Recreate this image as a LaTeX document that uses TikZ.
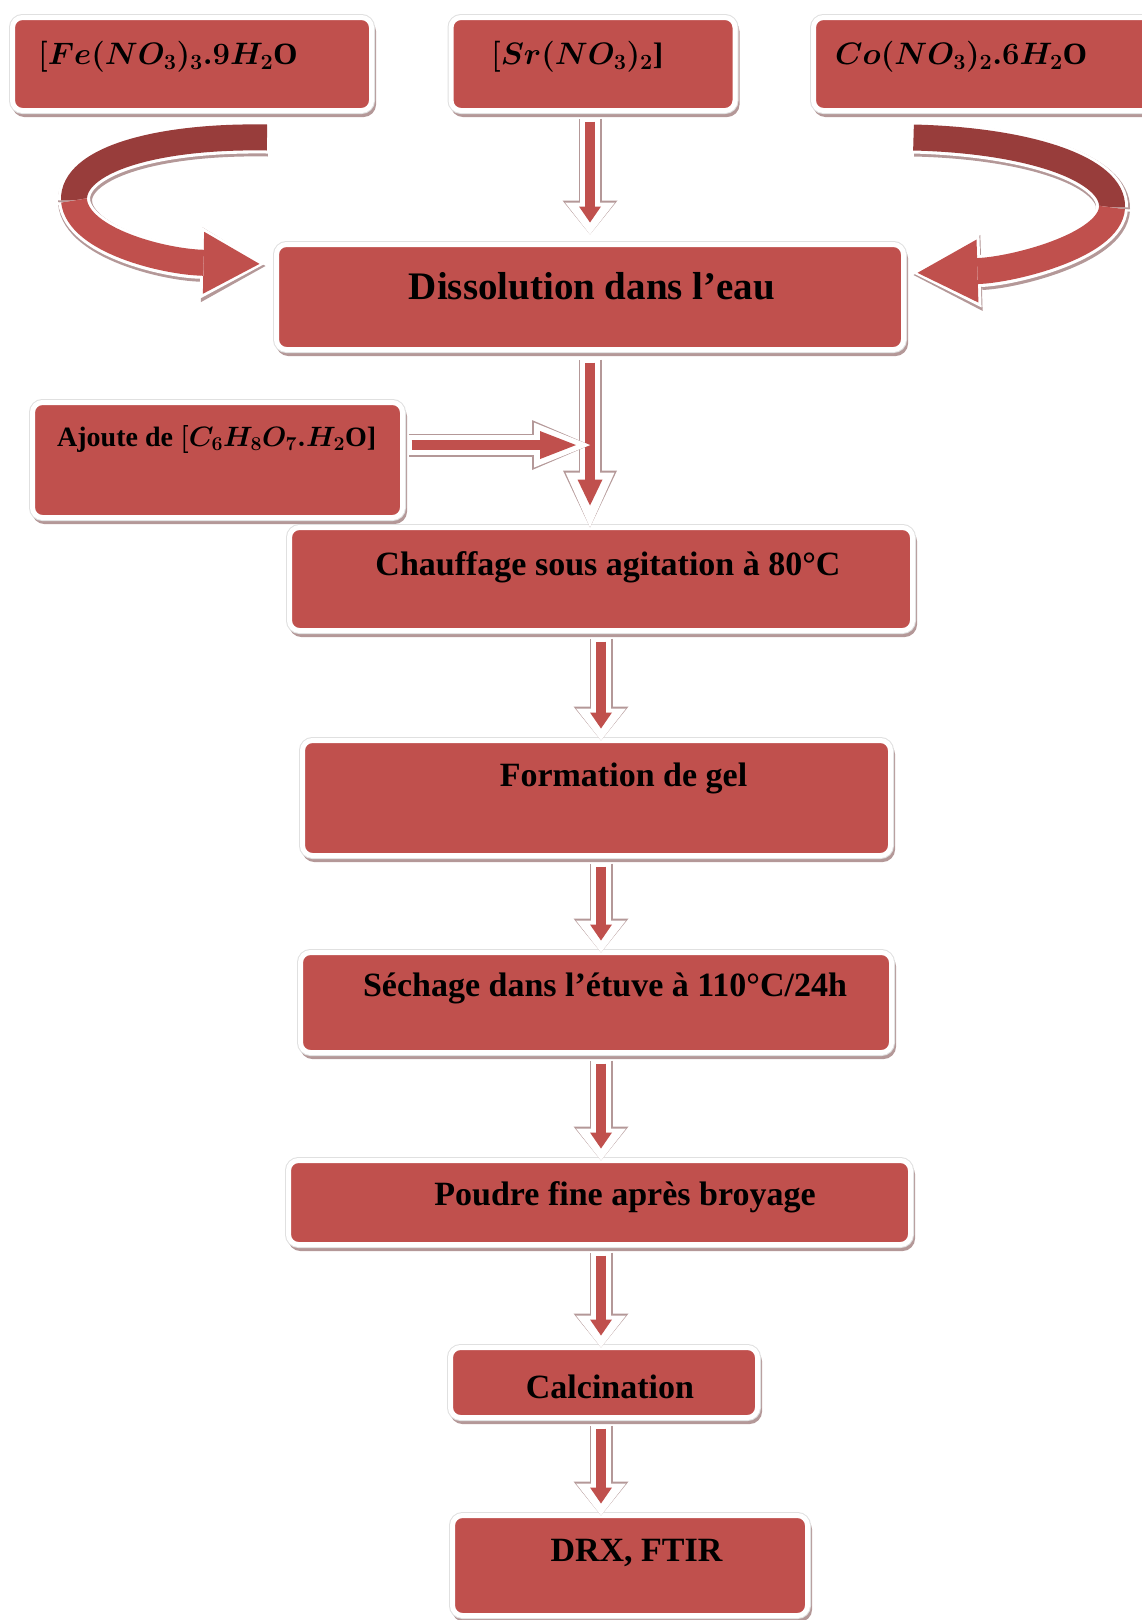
\RequirePackage{fix-cm}
\documentclass[tikz,border=0pt]{standalone}
\usepackage{fontspec}
\setmainfont{Liberation Serif}
\usetikzlibrary{arrows.meta,calc}

\definecolor{boxred}{RGB}{192,80,77}
\definecolor{backred}{RGB}{152,61,59}
\definecolor{shade}{RGB}{180,152,152}

\tikzset{
  box/.style={rectangle, rounded corners=10pt, fill=boxred, draw=white,
    line width=5pt, outer sep=0pt,
    preaction={draw=shade, fill=shade, line width=5pt,
      transform canvas={xshift=2pt,yshift=-4pt}},
    preaction={draw=black!12, line width=7pt}},
  txt/.style={inner sep=0pt, font=\fontsize{34}{40}\selectfont\bfseries},
  chem/.style={inner sep=0pt, font=\fontsize{31}{36}\selectfont\bfseries},
  flowshade/.style={draw=shade, line width=23pt,
    -{Triangle[length=34pt,width=55pt,line width=0pt]}},
  flowwhite/.style={draw=white, line width=20pt,
    -{Triangle[length=32pt,width=50pt,line width=0pt]}},
  flowred/.style={draw=boxred, line width=10pt, shorten <=3pt, shorten >=12pt,
    -{Triangle[length=16pt,width=22pt,line width=0pt]}},
  ribshade/.style={draw=shade, line width=34pt,
    transform canvas={xshift=1pt,yshift=-2pt}},
  ribwhite/.style={draw=white, line width=32pt},
  ribback/.style={draw=backred, line width=26pt},
  ribfront/.style={draw=boxred, line width=26pt},
}

% three layers: shadow, white rim, red core
\newcommand\flowarrow[2]{%
  \draw[flowshade] #1 -- #2;
  \draw[flowwhite] #1 -- #2;
  \draw[flowred] #1 -- #2;}

\begin{document}
\begin{tikzpicture}[x=1pt,y=-1pt]
  \useasboundingbox (0,0) rectangle (1141,1620);

  % boxes
  \node[box, minimum width=359pt, minimum height=93pt] (fe) at (192,64) {};
  \node[box, minimum width=284pt, minimum height=93pt] (sr) at (593,64) {};
  \node[box, minimum width=339pt, minimum height=93pt] (co) at (983,64) {};
  \node[box, minimum width=627pt, minimum height=105pt] (dis) at (590,297) {};
  \node[box, minimum width=370pt, minimum height=115pt] (ajo) at (217.5,460) {};
  \node[box, minimum width=623pt, minimum height=103pt] (cha) at (601,579) {};
  \node[box, minimum width=588pt, minimum height=115pt] (gel) at (596.5,798) {};
  \node[box, minimum width=591pt, minimum height=100pt] (sec) at (596,1002.5) {};
  \node[box, minimum width=622pt, minimum height=84pt] (pou) at (599.5,1202.5) {};
  \node[box, minimum width=307pt, minimum height=70pt] (cal) at (604,1382.5) {};
  \node[box, minimum width=355pt, minimum height=100pt] (drx) at (630,1565.5) {};

  % texts
  \node[chem, anchor=west] (fe-t) at ($(fe.west)+(25.5,-7)$)
    {{\boldmath$[Fe(NO_3)_3.9H_2$}O};
  \node[chem, anchor=west] (sr-t) at ($(sr.west)+(40,-7)$)
    {{\boldmath$[Sr(NO_3)_2$}]};
  \node[chem, anchor=west] (co-t) at ($(co.west)+(21.5,-7)$)
    {{\boldmath$Co(NO_3)_2.6H_2$}O};
  \node[txt, font=\fontsize{39}{44}\selectfont\bfseries] (dis-t)
    at ($(dis.center)+(2,-11)$) {Dissolution dans l’eau};
  \node[txt, anchor=west, font=\fontsize{28}{33}\selectfont\bfseries] (ajo-t)
    at ($(ajo.west)+(24.5,-21)$) {Ajoute de {\boldmath$[C_6H_8O_7.H_2$}O]};
  \node[txt] (cha-t) at ($(cha.center)+(7,-12)$) {Chauffage sous agitation à 80°C};
  \node[txt] (gel-t) at ($(gel.center)+(27,-20)$) {Formation de gel};
  \node[txt] (sec-t) at ($(sec.center)+(9,-14.5)$) {Séchage dans l’étuve à 110°C/24h};
  \node[txt] (pou-t) at ($(pou.center)+(25.5,-5.5)$) {Poudre fine après broyage};
  \node[txt] (cal-t) at ($(cal.center)+(6,4.5)$) {Calcination};
  \node[txt] (drx-t) at ($(drx.center)+(6.5,-12.5)$) {DRX, FTIR};

  % curved arrows into the dissolution box
  \coordinate (fe-s) at ($(fe.south)+(75,27)$);
  \coordinate (fe-m) at ($(fe.south west)+(61.5,90)$);
  \coordinate (fe-e) at ($(dis.west)+(-12,-33)$);
  \draw[ribshade] (fe-s) .. controls +(-112,-2) and +(-2,-40) .. (fe-m);
  \draw[ribwhite, shorten <=-3pt] (fe-s) .. controls +(-112,-2) and +(-2,-40) .. (fe-m);
  \draw[ribback] (fe-s) .. controls +(-112,-2) and +(-2,-40) .. (fe-m);
  \draw[ribshade, -{Triangle[length=64pt,width=75pt,line width=0pt]}]
    (fe-m) .. controls +(4,40) and +(-100,-2) .. (fe-e);
  \draw[ribwhite, -{Triangle[length=64pt,width=72pt,line width=0pt]}]
    (fe-m) .. controls +(4,40) and +(-100,-2) .. (fe-e);
  \draw[ribfront, shorten >=5pt, -{Triangle[length=56pt,width=62pt,line width=0pt]}]
    (fe-m) .. controls +(4,40) and +(-100,-2) .. (fe-e);

  \coordinate (co-s) at ($(co.south west)+(100,27)$);
  \coordinate (co-m) at ($(co.south west)+(298.5,97)$);
  \coordinate (co-e) at ($(dis.east)+(9,-24)$);
  \draw[ribshade] (co-s) .. controls +(120,3) and +(2,-37) .. (co-m);
  \draw[ribwhite, shorten <=-3pt] (co-s) .. controls +(120,3) and +(2,-37) .. (co-m);
  \draw[ribback] (co-s) .. controls +(120,3) and +(2,-37) .. (co-m);
  \draw[ribshade, -{Triangle[length=68pt,width=76pt,line width=0pt]}]
    (co-m) .. controls +(-2,38) and +(100,-3) .. (co-e);
  \draw[ribwhite, -{Triangle[length=68pt,width=73pt,line width=0pt]}]
    (co-m) .. controls +(-2,38) and +(100,-3) .. (co-e);
  \draw[ribfront, shorten >=5pt, -{Triangle[length=60pt,width=63pt,line width=0pt]}]
    (co-m) .. controls +(-2,38) and +(100,-3) .. (co-e);

  % straight arrows
  \coordinate (axis) at (601,0);
  \flowarrow{($(sr.south -| dis.north)+(0,8)$)}{($(dis.north)+(0,-10)$)}

  \draw[flowshade, -{Triangle[length=57pt,width=54pt,line width=0pt]}]
    ($(dis.south)+(0,10)$) -- (cha.north -| dis.south);
  \draw[flowwhite, -{Triangle[length=55pt,width=49pt,line width=0pt]}]
    ($(dis.south)+(0,10)$) -- (cha.north -| dis.south);
  \draw[flowred, shorten >=22pt, -{Triangle[length=26pt,width=25pt,line width=0pt]}]
    ($(dis.south)+(0,10)$) -- (cha.north -| dis.south);

  \coordinate (aj) at ($(ajo.north east)!0.37!(ajo.south east)+(6,0)$);
  \draw[flowshade, -{Triangle[length=58pt,width=50pt,line width=0pt]}]
    (aj) -- (aj -| dis.south);
  \draw[flowwhite, -{Triangle[length=56pt,width=45pt,line width=0pt]}]
    (aj) -- (aj -| dis.south);
  \draw[flowred, shorten >=14pt, -{Triangle[length=36pt,width=28pt,line width=0pt]}]
    (aj) -- (aj -| dis.south);

  \flowarrow{($(cha.south -| axis)+(0,8)$)}{(gel.north -| axis)}
  \flowarrow{($(gel.south -| axis)+(0,8)$)}{(sec.north -| axis)}
  \flowarrow{($(sec.south -| axis)+(0,8)$)}{(pou.north -| axis)}
  \flowarrow{($(pou.south -| axis)+(0,8)$)}{(cal.north -| axis)}
  \flowarrow{($(cal.south -| axis)+(0,8)$)}{(drx.north -| axis)}
\end{tikzpicture}
\end{document}
